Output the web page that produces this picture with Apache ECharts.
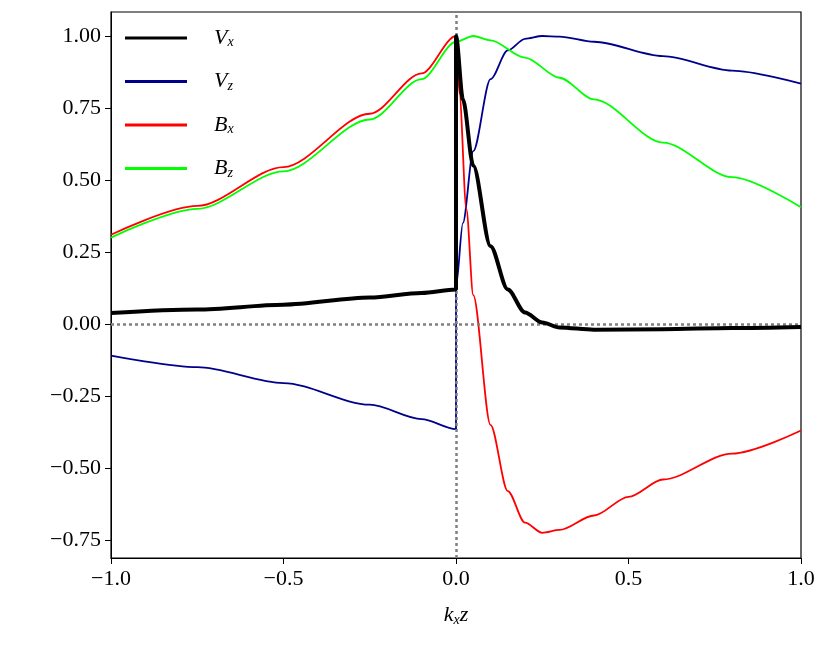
<!DOCTYPE html>
<html><head><meta charset="utf-8">
<script src="https://cdn.jsdelivr.net/npm/echarts@6/dist/echarts.min.js"></script>
<style>body{margin:0;background:#fff}#main{width:830px;height:658px}</style>
</head><body><div id="main"></div>
<script>
var xTicks = [-1.0, -0.5, 0.0, 0.5, 1.0];
var yTicks = [-0.75, -0.5, -0.25, 0, 0.25, 0.5, 0.75, 1.0];

var vxData = [[-1,0.038],[-0.75,0.05],[-0.5,0.067],[-0.25,0.092],[-0.1,0.108],[0,0.12],[0,1.0],[0.02,0.78],[0.05,0.55],[0.1,0.27],[0.15,0.12],[0.2,0.04],[0.25,0.005],[0.3,-0.012],[0.4,-0.02],[0.6,-0.018],[0.8,-0.014],[1,-0.01]];
var vzData = [[-1,-0.11],[-0.75,-0.15],[-0.5,-0.205],[-0.25,-0.28],[-0.1,-0.33],[0,-0.365],[0,0.13],[0.02,0.35],[0.05,0.6],[0.1,0.85],[0.15,0.95],[0.2,0.99],[0.25,1.0],[0.3,0.998],[0.4,0.98],[0.6,0.93],[0.8,0.88],[1,0.835]];
var bxData = [[-1,0.31],[-0.75,0.41],[-0.5,0.545],[-0.25,0.73],[-0.1,0.87],[0,1.0],[0.01,0.8],[0.03,0.4],[0.05,0.1],[0.1,-0.35],[0.15,-0.58],[0.2,-0.69],[0.25,-0.725],[0.3,-0.715],[0.4,-0.665],[0.5,-0.6],[0.6,-0.54],[0.8,-0.45],[1,-0.37]];
var bzData = [[-1,0.30],[-0.75,0.40],[-0.5,0.53],[-0.25,0.71],[-0.1,0.85],[0,0.98],[0.05,1.0],[0.1,0.985],[0.2,0.925],[0.3,0.855],[0.4,0.78],[0.6,0.63],[0.8,0.51],[1,0.405]];

var font = 'Liberation Serif';
var sub = {sub:{fontFamily:font,fontStyle:'italic',fontSize:14,color:'#000',verticalAlign:'bottom',padding:[9,0,0,0]},
           m:{fontFamily:font,fontStyle:'italic',fontSize:22,color:'#000'}};
function fmt(v, d){ var s = v.toFixed(d); return v < 0 ? '\u2212' + s.slice(1) : s; }

var lineOpt = {type:'line',smooth:0.3,smoothMonotone:'x',showSymbol:false};
function mk(name, data, color, width){
  return Object.assign({}, lineOpt, {name:name,data:data,lineStyle:{color:color,width:width},itemStyle:{color:color}});
}

var chart = echarts.init(document.getElementById('main'));
var vx = mk('Vx', vxData, '#000', 4);
vx.z = 5;
vx.markLine = {silent:true,symbol:'none',label:{show:false},lineStyle:{color:'#808080',type:[3,3],width:2.5},data:[{xAxis:0},{yAxis:0}]};
chart.setOption({
  animation:false,
  grid:{left:111,right:29,top:12,bottom:100,show:true,borderColor:'#000',borderWidth:1.2},
  legend:{left:120,top:22,orient:'vertical',itemWidth:62,itemHeight:3,itemGap:21,icon:'rect',
    textStyle:{fontFamily:font,rich:sub,padding:[0,0,0,22]},
    formatter:function(n){ return '{m|'+n[0]+'}{sub|'+n[1]+'}'; },
    data:['Vx','Vz','Bx','Bz']},
  xAxis:{type:'value',min:-1,max:1,interval:0.5,splitLine:{show:false},
    axisLine:{onZero:false,lineStyle:{color:'#000'}},axisTick:{inside:false,length:6,lineStyle:{color:'#000'}},
    axisLabel:{color:'#000',fontFamily:font,fontSize:22,margin:10,formatter:function(v){return fmt(v,1);}},
    name:'{m|k}{sub|x}{m|z}',nameLocation:'middle',nameGap:46,nameTextStyle:{rich:sub}},
  yAxis:{type:'value',min:-0.8125,max:1.0833,splitLine:{show:false},
    axisLine:{show:true,onZero:false,lineStyle:{color:'#000'}},axisTick:{show:true,inside:false,length:6,lineStyle:{color:'#000'},customValues:yTicks},
    axisLabel:{color:'#000',fontFamily:font,fontSize:22,margin:10,customValues:yTicks,formatter:function(v){return fmt(v,2);}}},
  series:[vx,
    mk('Vz', vzData, '#00008b', 1.8),
    mk('Bx', bxData, '#ff0000', 1.8),
    mk('Bz', bzData, '#00ff00', 1.8)
  ]
});
</script></body></html>
